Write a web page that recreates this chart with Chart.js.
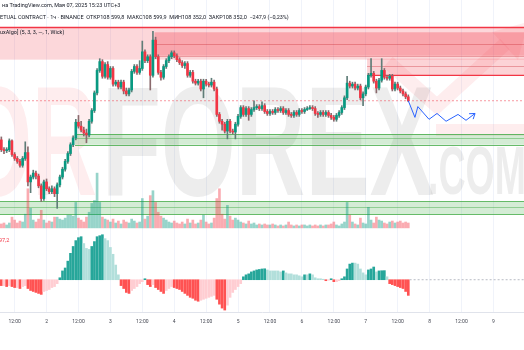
<!DOCTYPE html>
<html><head><meta charset="utf-8">
<script src="https://cdn.jsdelivr.net/npm/chart.js@4"></script>
<style>
html,body{margin:0;padding:0;background:#fff;}
#wrap{position:relative;width:524px;height:350px;overflow:hidden;}
canvas{position:absolute;left:0;top:0;}
.t{position:absolute;font-family:Roboto,"Noto Sans",sans-serif;font-size:5.5px;line-height:7px;color:#131722;white-space:nowrap;}
</style></head><body>
<div id="wrap">
<canvas id="c" width="524" height="350"></canvas>
<div class="t" style="top:2px;left:2px">на TradingView.com, Мая 07, 2025 15:23 UTC+3</div>
<div class="t" style="top:14px;left:0px">ETUAL CONTRACT · 1ч · BINANCE &nbsp;ОТКР108 599,8 &nbsp;МАКС108 599,9 &nbsp;МИН108 352,0 &nbsp;ЗАКР108 352,0 &nbsp;−247,9 (−0,23%)</div>
<div class="t" style="top:29px;left:0px">uxAlgo] (5, 3, 3, —, 1, Wick)</div>
<div class="t" style="top:237px;left:-1px;color:#f23645">97,2</div>
</div>
<script>
// ---- data (hourly candles, hour index from 1 May 07:00) ----
const firstOpen = 107950;
const close = [
107850,107840,107850,107940,107800,107760,107730,107690,107760,107820,
107520,107570,107610,107580,107480,107350,107520,107450,107420,107450,
107400,107490,107570,107650,107730,107810,107900,107970,108130,108090,
108050,108020,108000,108140,108250,108430,108660,108750,108600,108720,
108590,108680,108520,108540,108490,108540,108450,108420,108460,108650,
108700,108640,108680,108850,108760,108800,108610,108970,108800,108640,
108590,108700,108760,108800,108840,108810,108770,108740,108710,108730,
108610,108640,108550,108530,108550,108470,108550,108520,108510,108540,
108470,108210,108140,108110,108040,108140,108040,108030,108110,108190,
108280,108210,108270,108210,108260,108280,108290,108270,108300,108240,
108220,108240,108230,108260,108250,108270,108230,108250,108210,108200,
108230,108210,108250,108240,108260,108270,108280,108270,108220,108210,
108230,108210,108230,108200,108180,108160,108200,108230,108280,108380,
108530,108500,108520,108480,108500,108380,108420,108490,108610,108630,
108550,108480,108560,108660,108590,108580,108600,108470,108520,108480,
108450,108420,108390,108350];
const high = [
107980,107870,107870,107960,107950,107820,107780,107750,107780,107930,
107880,107590,107640,107630,107600,107500,107540,107550,107470,107480,
107470,107510,107590,107670,107750,107830,107920,107990,108160,108200,
108140,108080,108060,108160,108270,108450,108680,108780,108770,108740,
108750,108700,108700,108560,108560,108560,108560,108480,108480,108670,
108720,108720,108760,108960,108870,108820,108820,109060,109000,108820,
108660,108720,108780,108820,108860,108860,108830,108790,108760,108750,
108750,108660,108660,108570,108570,108570,108570,108570,108540,108580,
108560,108490,108230,108160,108130,108160,108160,108060,108130,108210,
108300,108300,108290,108290,108280,108350,108310,108310,108340,108320,
108260,108260,108260,108280,108280,108290,108290,108270,108270,108230,
108250,108250,108270,108270,108280,108290,108300,108300,108290,108240,
108250,108250,108250,108250,108220,108200,108220,108250,108300,108400,
108600,108550,108540,108540,108520,108520,108440,108510,108630,108780,
108650,108570,108580,108780,108680,108610,108620,108620,108540,108540,
108500,108470,108440,108410];
const low = [
107830,107810,107820,107830,107780,107740,107710,107670,107670,107740,
107480,107410,107550,107550,107460,107320,107330,107430,107400,107400,
107370,107250,107470,107550,107630,107710,107790,107880,107950,108070,
108030,107990,107920,107980,108120,108230,108410,108640,108580,108580,
108570,108570,108500,108500,108470,108470,108420,108400,108400,108440,
108630,108620,108620,108660,108740,108740,108460,108590,108780,108620,
108560,108570,108680,108740,108780,108790,108750,108720,108690,108680,
108590,108590,108530,108510,108510,108450,108380,108500,108490,108490,
108450,108190,108120,108050,108020,107960,108020,108010,107960,108090,
108170,108190,108190,108150,108190,108240,108260,108250,108250,108220,
108200,108200,108210,108210,108230,108230,108210,108210,108190,108180,
108180,108190,108190,108220,108220,108250,108260,108250,108200,108180,
108190,108190,108190,108180,108160,108140,108140,108180,108210,108260,
108360,108480,108480,108460,108460,108360,108300,108400,108470,108590,
108530,108430,108460,108540,108570,108560,108560,108450,108450,108460,
108430,108400,108370,108340];
const volume = [
400,500,300,500,1100,800,500,700,600,1400,
4000,2000,800,600,900,1800,800,500,700,600,
1100,1100,900,800,1000,1300,1300,1200,2600,1000,
800,600,1100,1600,2500,2800,5600,2600,1100,900,
800,600,900,500,700,400,800,600,500,900,
700,500,600,3000,900,1200,3300,3800,2600,1600,
1200,1000,800,600,500,700,500,400,600,400,
900,500,800,400,500,800,1300,600,400,500,
1000,3000,4000,1400,900,2300,1200,800,1000,800,
600,500,400,700,400,500,300,400,300,400,
300,300,400,300,200,300,200,300,600,300,
200,300,200,300,300,200,300,200,300,200,
300,200,300,300,400,600,300,200,400,600,
2600,1300,600,400,300,1000,500,400,2100,800,
500,1100,800,700,500,400,600,700,500,600,
700,500,600,500];
const hist = [
-60,-60,-70,-60,-70,-80,-80,-90,-70,-60,
-90,-110,-120,-130,-140,-150,-120,-110,-100,-80,
-70,-40,20,90,120,190,270,340,400,430,
440,370,320,310,340,390,440,450,460,420,
400,330,260,150,50,-60,-90,-130,-140,-110,
-90,-70,-40,-20,10,-50,-70,-50,-80,-100,
-120,-140,-110,-90,-70,-80,-90,-100,-120,-140,
-160,-180,-190,-210,-220,-210,-200,-190,-180,-170,
-160,-200,-250,-290,-310,-260,-180,-130,-100,-70,
-40,30,50,60,80,90,100,105,110,112,
100,90,90,90,90,80,90,70,60,60,
50,50,40,30,50,50,60,50,20,10,
10,5,-10,-5,10,-20,-20,-10,10,30,
110,160,170,170,160,110,70,50,100,110,
130,80,90,92,93,30,-40,-50,-60,-70,
-80,-90,-120,-160];
// projected path
const pathX = [153,155.5,156.6,160.8,163.8,167.2,171.7,174.7,178.1];
const pathY = [108350,108180,108290,108160,108220,108140,108210,108150,108220];
// zones (hour index range, price range)
const redFrom = [-0.5, 57.6, 137.5];
const redTo = [196.5, 196.5, 196.5];
const redTop = [109100, 109050, 108780];
const redBottom = [108770, 108810, 108610];
const redMid = [null, 108930, 108710];
const greenFrom = [27.7, -0.5];
const greenTo = [196.5, 196.5];
const greenTop = [108010, 107320];
const greenBottom = [107900, 107190];
const greenMid = [107970, 107260];
// time axis
const tickHours = [5,17,29,41,53,65,77,89,101,113,125,137,149,161,173,185];
const tickLabels = ['12:00','2','12:00','3','12:00','4','12:00','5','12:00','6','12:00','7','12:00','8','12:00','9'];

// ---- derived ----
const N = close.length;
const open = [firstOpen].concat(close.slice(0, N - 1));
const up = close.map((c, i) => c >= open[i]);
const UP = '#089981', DOWN = '#f23645';
const histColors = hist.map((v, i) => {
  const p = i ? hist[i - 1] : 0;
  if (v >= 0) return v > p ? '#26a69a' : '#b2dfdb';
  return v < p ? '#ff5252' : '#ffcdd2';
});

const bgPlugin = {
  id: 'bg',
  beforeDatasetsDraw(chart) {
    const {ctx, chartArea: a, scales} = chart;
    const xs = scales.x, ys = scales.y;
    ctx.save();
    ctx.beginPath(); ctx.rect(a.left, a.top, a.right - a.left, a.bottom - a.top); ctx.clip();
    // watermark
    ctx.textBaseline = 'alphabetic';
    ctx.font = 'bold 155px "Liberation Sans", Arial, sans-serif';
    ctx.fillStyle = 'rgba(242,54,69,0.09)';
    ctx.fillText('OR', -38, 195, 135);
    ctx.fillStyle = 'rgba(110,110,110,0.12)';
    ctx.fillText('FOREX', 102, 195, 332);
    ctx.font = 'bold 68px "Liberation Sans", Arial, sans-serif';
    ctx.fillText('.COM', 428, 194, 98);
    ctx.strokeStyle = 'rgba(242,54,69,0.09)';
    ctx.lineWidth = 14; ctx.lineJoin = 'miter';
    ctx.beginPath(); ctx.moveTo(388, 62); ctx.lineTo(437, 106); ctx.lineTo(505, 44); ctx.stroke();
    ctx.fillStyle = 'rgba(242,54,69,0.09)';
    ctx.beginPath(); ctx.moveTo(528, 22); ctx.lineTo(492, 32); ctx.lineTo(518, 60); ctx.closePath(); ctx.fill();
    ctx.fillRect(436, 124, 90, 12);
    // zones
    const fills = ['rgba(242,54,69,0.20)', 'rgba(242,54,69,0.30)', 'rgba(242,54,69,0.22)'];
    for (let i = 0; i < redFrom.length; i++) {
      const x1 = xs.getPixelForValue(redFrom[i]), x2 = xs.getPixelForValue(redTo[i]);
      const y1 = ys.getPixelForValue(redTop[i]), y2 = ys.getPixelForValue(redBottom[i]);
      ctx.fillStyle = fills[i];
      ctx.fillRect(x1, y1, x2 - x1, y2 - y1);
      ctx.lineWidth = 1;
      ctx.strokeStyle = 'rgba(200,40,50,0.35)';
      if (redMid[i] !== null) {
        const ym = Math.round(ys.getPixelForValue(redMid[i])) + 0.5;
        ctx.beginPath(); ctx.moveTo(x1, ym); ctx.lineTo(x2, ym); ctx.stroke();
      }
      if (i === 1) {
        const yb = Math.round(y2) + 0.5;
        ctx.beginPath(); ctx.moveTo(x1, yb); ctx.lineTo(x2, yb); ctx.stroke();
      }
    }
    ctx.strokeStyle = '#f23645'; ctx.lineWidth = 1.5;
    let yy = ys.getPixelForValue(redTop[0]);
    ctx.beginPath(); ctx.moveTo(xs.getPixelForValue(redFrom[0]), yy); ctx.lineTo(xs.getPixelForValue(redTo[0]), yy); ctx.stroke();
    ctx.lineWidth = 1.2;
    yy = ys.getPixelForValue(redBottom[2]);
    ctx.beginPath(); ctx.moveTo(xs.getPixelForValue(redFrom[2]), yy); ctx.lineTo(xs.getPixelForValue(redTo[2]), yy); ctx.stroke();
    for (let i = 0; i < greenFrom.length; i++) {
      const x1 = xs.getPixelForValue(greenFrom[i]), x2 = xs.getPixelForValue(greenTo[i]);
      const y1 = ys.getPixelForValue(greenTop[i]), y2 = ys.getPixelForValue(greenBottom[i]);
      ctx.fillStyle = 'rgba(76,175,80,0.24)';
      ctx.fillRect(x1, y1, x2 - x1, y2 - y1);
      ctx.lineWidth = 1;
      ctx.strokeStyle = 'rgba(76,175,80,0.85)';
      [y1, y2].forEach(v => { const q = Math.round(v) + 0.5; ctx.beginPath(); ctx.moveTo(x1, q); ctx.lineTo(x2, q); ctx.stroke(); });
      ctx.strokeStyle = 'rgba(76,175,80,0.5)';
      const ym = Math.round(ys.getPixelForValue(greenMid[i])) + 0.5;
      ctx.beginPath(); ctx.moveTo(x1, ym); ctx.lineTo(x2, ym); ctx.stroke();
    }
    ctx.restore();
  },
  afterDatasetsDraw(chart) {
    const meta = chart.getDatasetMeta(6);
    const pts = meta.data; const n = pts.length;
    const p1 = pts[n - 1], p0 = pts[n - 2];
    const ang = Math.atan2(p1.y - p0.y, p1.x - p0.x);
    const ctx = chart.ctx;
    ctx.save();
    ctx.strokeStyle = '#2962ff'; ctx.lineWidth = 1;
    ctx.beginPath();
    ctx.moveTo(p1.x - 6 * Math.cos(ang - 0.6), p1.y - 6 * Math.sin(ang - 0.6));
    ctx.lineTo(p1.x, p1.y);
    ctx.lineTo(p1.x - 6 * Math.cos(ang + 0.6), p1.y - 6 * Math.sin(ang + 0.6));
    ctx.stroke();
    ctx.restore();
  }
};

new Chart(document.getElementById('c'), {
  type: 'bar',
  data: {
    datasets: [
      { type: 'bar', yAxisID: 'yv', data: close.map((c, i) => ({x: i, y: volume[i]})),
        backgroundColor: up.map(u => u ? 'rgba(8,153,129,0.42)' : 'rgba(242,54,69,0.42)'),
        barThickness: 2, grouped: false, order: 6 },
      { type: 'bar', yAxisID: 'yh', data: hist.map((v, i) => ({x: i, y: v})),
        backgroundColor: histColors, barThickness: 2, grouped: false, order: 6 },
      { type: 'bar', yAxisID: 'y', data: close.map((c, i) => ({x: i, y: [low[i], high[i]]})),
        backgroundColor: up.map(u => u ? '#5f7d78' : '#8a6a6d'), barThickness: 1, grouped: false, order: 4 },
      { type: 'bar', yAxisID: 'y', data: close.map((c, i) => ({x: i, y: [open[i], c]})),
        backgroundColor: up.map(u => u ? UP : DOWN), barThickness: 2, minBarLength: 1, grouped: false, order: 3 },
      { type: 'line', yAxisID: 'y', data: [{x: -0.5, y: close[N - 1]}, {x: 196.5, y: close[N - 1]}],
        borderColor: 'rgba(242,54,69,0.5)', borderWidth: 1, borderDash: [2, 2], pointRadius: 0, order: 5 },
      { type: 'line', yAxisID: 'yh', data: [{x: N - 0.5, y: 0}, {x: 196.5, y: 0}],
        borderColor: '#b8bbc4', borderWidth: 1, borderDash: [2, 2], pointRadius: 0, order: 5 },
      { type: 'line', yAxisID: 'y', data: pathX.map((x, i) => ({x, y: pathY[i]})),
        borderColor: '#2962ff', borderWidth: 1, pointRadius: 0, tension: 0, order: 1 }
    ]
  },
  options: {
    responsive: false, animation: false, devicePixelRatio: 1,
    layout: { padding: { left: 0, right: 0, top: 0, bottom: 18 } },
    plugins: { legend: { display: false }, tooltip: { enabled: false } },
    scales: {
      x: { type: 'linear', min: -0.5, max: 196.5, offset: false, bounds: 'data',
        grid: { offset: false, color: '#f0f3fa', drawTicks: false },
        border: { display: true, color: '#e0e3eb' },
        afterBuildTicks: s => { s.ticks = tickHours.map(v => ({value: v})); },
        ticks: { autoSkip: false, maxRotation: 0, padding: 7, color: '#434651',
          font: { size: 5, family: 'Roboto' },
          callback: v => { const k = tickHours.indexOf(v); return k >= 0 ? tickLabels[k] : ''; } } },
      y: { display: false, min: 106190, max: 109380 },
      yv: { display: false, min: -8600, max: 23300 },
      yh: { display: false, min: -330, max: 2860 }
    }
  },
  plugins: [bgPlugin]
});
</script>
</body></html>
